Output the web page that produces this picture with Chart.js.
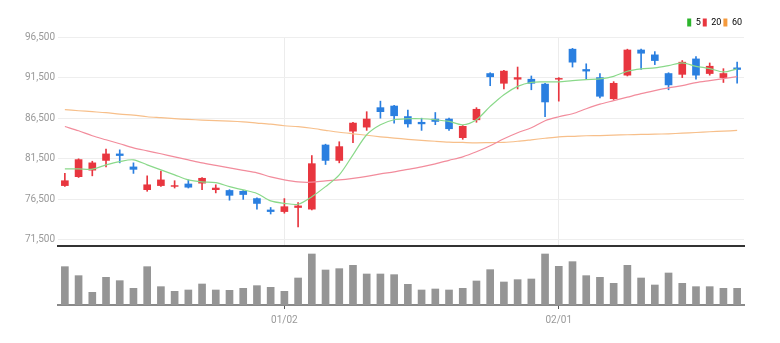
<!DOCTYPE html>
<html lang="pt-BR">
<head>
<meta charset="utf-8">
<title>Gráfico de ações</title>
<script src="https://cdn.jsdelivr.net/npm/chart.js@4.4.1/dist/chart.umd.min.js"></script>
<style>
  html, body { margin: 0; padding: 0; background: #fff; }
  #painel { position: relative; width: 780px; height: 343px; }
  #graficoPreco { position: absolute; left: 0; top: 0; }
  #graficoVolume { position: absolute; left: 0; top: 247px; }
</style>
</head>
<body>
<div id="painel">
  <canvas id="graficoPreco" width="780" height="255"></canvas>
  <canvas id="graficoVolume" width="780" height="96"></canvas>
</div>
<script>
// Datas dos pregões
const datas = [
  "12/05", "12/06", "12/07", "12/08", "12/11", "12/12", "12/13", "12/14", "12/15", "12/18",
  "12/19", "12/20", "12/21", "12/22", "12/26", "12/27", "01/02", "01/03", "01/04", "01/05",
  "01/08", "01/09", "01/10", "01/11", "01/12", "01/15", "01/16", "01/17", "01/18", "01/19",
  "01/22", "01/23", "01/24", "01/25", "01/26", "01/29", "02/01", "02/02", "02/05", "02/06",
  "02/07", "02/08", "02/13", "02/14", "02/15", "02/16", "02/19", "02/20", "02/21", "02/22"
];
const rotulosEixo = ["01/02", "02/01"];

// Preços (abertura, máxima, mínima, fechamento)
const abertura = [
  78200, 79300, 80100, 81300, 82100, 80500, 77700, 78200, 78100, 78400,
  78500, 77700, 77600, 77500, 76600, 75200, 75000, 75500, 75300, 83200,
  81300, 84900, 85400, 87800, 88000, 86700, 86000, 86400, 86400, 84100,
  86300, 92000, 90800, 91300, 91300, 90700, 91300, 95000, 92500, 91500,
  88900, 91800, 94900, 94300, 92000, 91900, 93800, 92000, 91500, 92700
];
const maxima = [
  79700, 81500, 81200, 82700, 82600, 81000, 79400, 80000, 78800, 78900,
  79200, 78300, 77700, 77600, 76700, 75500, 76600, 76100, 81900, 83300,
  83600, 86000, 87300, 88600, 88100, 87500, 86500, 87200, 86500, 85600,
  87800, 92100, 92400, 92800, 91700, 90800, 91500, 95100, 93200, 92000,
  91000, 95000, 95000, 94700, 92100, 93600, 94100, 93300, 92600, 93400
];
const minima = [
  78100, 79200, 79400, 80500, 81000, 79700, 77500, 78100, 77900, 77900,
  77700, 77300, 76400, 76500, 75300, 74700, 74800, 73100, 75200, 80800,
  81000, 83500, 85000, 86500, 85900, 85400, 85000, 85700, 85000, 83900,
  86000, 90500, 90100, 90100, 90000, 86700, 88600, 92800, 91300, 89000,
  88800, 91700, 92500, 93100, 90000, 91500, 91300, 91800, 90900, 90800
];
const fechamento = [
  78800, 81400, 81000, 82100, 81900, 80200, 78300, 78900, 78200, 78000,
  79100, 77900, 77000, 77100, 76000, 75000, 75600, 75700, 80900, 81300,
  83000, 85900, 86400, 87300, 86800, 85800, 85800, 86100, 85200, 85500,
  87600, 91600, 92300, 91500, 90800, 88500, 91400, 93400, 92300, 89200,
  90800, 94900, 94500, 93600, 90600, 93400, 91800, 92900, 92000, 92500
];

// Médias móveis
const media5 = [
  80260, 80260, 80220, 80750, 81160, 81370, 80750, 80140, 79520, 78900,
  78650, 78570, 78070, 77670, 77230, 76310, 76020, 75900, 76840, 78070,
  79520, 81990, 84460, 85690, 86310, 86430, 86430, 86310, 86100, 85690,
  86310, 87950, 89400, 90420, 90920, 90970, 90970, 91130, 91250, 91340,
  91660, 92280, 92570, 92700, 92980, 93310, 92890, 92610, 92200, 92570
];
const media20 = [
  85480, 84950, 84340, 83840, 83350, 82850, 82480, 82120, 81740, 81370,
  81000, 80690, 80380, 80070, 79770, 79270, 78900, 78650, 78620, 78780,
  78900, 79090, 79330, 79640, 79890, 80200, 80510, 80880, 81310, 81740,
  82360, 83100, 83960, 84710, 85320, 86190, 86680, 87050, 87670, 88230,
  88660, 89090, 89520, 89890, 90230, 90510, 90880, 91130, 91370, 91620
];
const media60 = [
  87550, 87420, 87300, 87180, 86990, 86870, 86680, 86560, 86440, 86350,
  86270, 86190, 86130, 86040, 85900, 85760, 85570, 85450, 85260, 85010,
  84770, 84580, 84400, 84210, 84050, 83900, 83780, 83660, 83560, 83510,
  83470, 83500, 83530, 83660, 83840, 84030, 84210, 84270, 84340, 84360,
  84410, 84460, 84500, 84530, 84580, 84660, 84740, 84830, 84900, 84990
];

// Volume negociado
const volume = [
  115, 88, 38, 83, 73, 50, 115, 55, 41, 45,
  63, 45, 44, 50, 58, 53, 41, 81, 153, 105,
  109, 119, 93, 93, 91, 62, 45, 48, 45, 50,
  72, 106, 69, 76, 78, 153, 116, 130, 88, 83,
  65, 119, 81, 60, 96, 65, 55, 55, 50, 50
];

const ticksPreco = [71500, 76500, 81500, 86500, 91500, 96500];
const nomesMedias = ["5", "20", "60"];

// Cores
const corAlta = "#e8363f";
const corBaixa = "#2a7fe0";
const coresLegenda = ["#2cb52c", "#e8363f", "#f59a3c"];
const coresLinhas = ["#8ad98a", "#f28c9c", "#f7bf8a"];
const corTexto = "#999999";

Chart.defaults.font.family = "'Liberation Sans Narrow', Roboto, 'Liberation Sans', sans-serif";
Chart.defaults.font.size = 10;
Chart.defaults.animation = false;

document.addEventListener("DOMContentLoaded", () => {
  desenharPreco();
  desenharVolume();
});

// Gráfico de velas + médias
function desenharPreco() {
  const corVela = datas.map((d, i) => fechamento[i] >= abertura[i] ? corAlta : corBaixa);
  const corpos = datas.map((d, i) => [abertura[i], fechamento[i]]);
  const pavios = datas.map((d, i) => [minima[i], maxima[i]]);

  const medias = [media5, media20, media60].map((serie, i) => ({
    type: "line",
    label: nomesMedias[i],
    data: serie,
    borderColor: coresLinhas[i],
    backgroundColor: coresLegenda[i],
    borderWidth: 1.2,
    pointRadius: 0,
    tension: 0.3,
    order: 0
  }));

  new Chart(document.getElementById("graficoPreco"), {
    type: "bar",
    data: {
      labels: datas,
      datasets: [
        { label: "corpo", data: corpos, backgroundColor: corVela, barThickness: 7, grouped: false, order: 1 },
        { label: "pavio", data: pavios, backgroundColor: corVela, barThickness: 1, grouped: false, order: 2 },
        ...medias
      ]
    },
    options: {
      responsive: false,
      layout: { padding: { top: 16, right: 36, bottom: 4, left: 0 } },
      plugins: {
        tooltip: { enabled: false },
        legend: {
          position: "top",
          align: "end",
          labels: {
            boxWidth: 4,
            boxHeight: 8,
            padding: 2,
            color: corTexto,
            font: { size: 9 },
            generateLabels: () => nomesMedias.map((nome, i) => ({
              text: nome,
              fillStyle: coresLegenda[i],
              strokeStyle: coresLegenda[i],
              lineWidth: 0,
              hidden: false,
              datasetIndex: i + 2
            }))
          }
        }
      },
      scales: {
        x: {
          ticks: { display: false },
          grid: {
            offset: false,
            drawTicks: false,
            color: ctx => rotulosEixo.includes(datas[ctx.index]) ? "#ececec" : "rgba(0,0,0,0)"
          },
          border: { color: "#333", width: 2 },
          afterFit: scale => { scale.height = 0; }
        },
        y: {
          min: 70760,
          max: 96500,
          afterBuildTicks: scale => { scale.ticks = ticksPreco.map(v => ({ value: v })); },
          ticks: {
            color: corTexto,
            padding: 3,
            callback: v => v.toLocaleString("en-US")
          },
          grid: { color: "#eeeeee", drawTicks: false },
          border: { display: false },
          afterFit: scale => { scale.width = 58; }
        }
      }
    }
  });
}

// Gráfico de volume
function desenharVolume() {
  new Chart(document.getElementById("graficoVolume"), {
    type: "bar",
    data: {
      labels: datas,
      datasets: [{ label: "volume", data: volume, backgroundColor: "#959595", barThickness: 7 }]
    },
    options: {
      responsive: false,
      layout: { padding: { top: 2, right: 36, bottom: 0, left: 58 } },
      plugins: { legend: { display: false }, tooltip: { enabled: false } },
      scales: {
        x: {
          ticks: {
            autoSkip: false,
            maxRotation: 0,
            padding: 5,
            color: corTexto,
            callback: (v, i) => rotulosEixo.includes(datas[i]) ? datas[i] : ""
          },
          grid: {
            offset: false,
            drawOnChartArea: false,
            tickLength: 4,
            tickColor: ctx => rotulosEixo.includes(datas[ctx.index]) ? "#555" : "rgba(0,0,0,0)"
          },
          border: { color: "#8a8a8a", width: 2 },
          afterFit: scale => { scale.height = 38; }
        },
        y: { display: false, min: 0, max: 168 }
      }
    }
  });
}
</script>
</body>
</html>
